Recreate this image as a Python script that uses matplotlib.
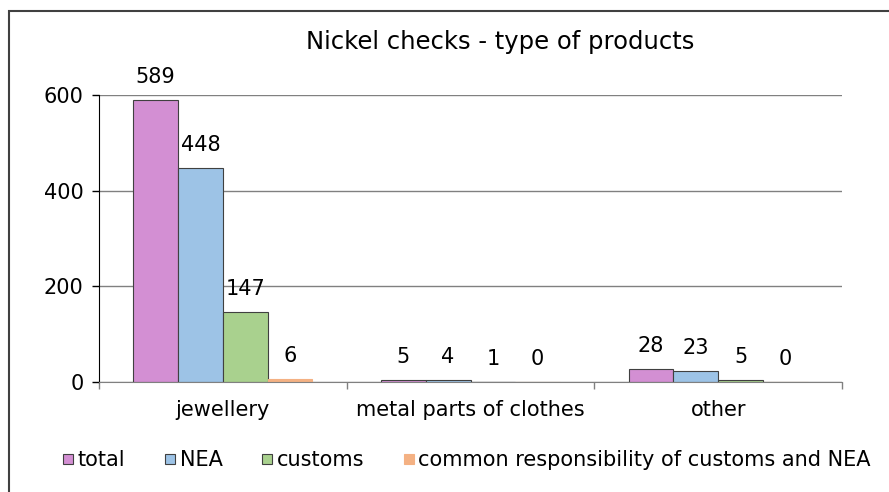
import matplotlib
matplotlib.use('Agg')
from matplotlib import pyplot as plt
from matplotlib.lines import Line2D
from matplotlib.patches import Rectangle
import numpy as np

categories = ['jewellery', 'metal parts of clothes', 'other']
series_names = ['total', 'NEA', 'customs', 'common responsibility of customs and NEA']
total = [589, 5, 28]
nea = [448, 4, 23]
customs = [147, 1, 5]
common = [6, 0, 0]
y_ticks = [0, 200, 400, 600]

colors = ['#D38FD3', '#9DC3E6', '#A9D18E', '#F4B183']
edges = ['#404040', '#404040', '#404040', '#F4B183']


def main():
  plt.rcParams['font.family'] = ['DejaVu Sans']
  fig = plt.figure(figsize=(8.89, 4.92), dpi=100)
  ax = fig.add_axes([99 / 889, 110 / 492, 743 / 889, 287 / 492])

  # outer chart frame
  fig.patches.append(Rectangle((9 / 889, -0.1), 1.2, 1.1 - 11 / 492,
                               transform=fig.transFigure, fill=False,
                               edgecolor='#404040', linewidth=1.5))

  data = [total, nea, customs, common]
  x = np.arange(len(categories)) + 0.5
  w = 0.181
  for i, vals in enumerate(data):
    pos = x + (i - 1.5) * w
    bars = ax.bar(pos, vals, width=w, color=colors[i], edgecolor=edges[i],
                  linewidth=0.8, zorder=3)
    for b, v in zip(bars, vals):
      ax.annotate(str(v), (b.get_x() + b.get_width() / 2, v),
                  xytext=(0, 16.5), textcoords='offset points',
                  ha='center', va='center', fontsize=15, color='black')

  ax.set_xlim(0, 3)
  ax.set_ylim(0, 600)
  ax.set_yticks(y_ticks)
  ax.tick_params(axis='y', length=5, width=1, pad=6, labelsize=15,
                 colors='black')
  ax.set_xticks([0, 1, 2, 3])
  ax.set_xticklabels([])
  ax.set_xticks(x, minor=True)
  ax.set_xticklabels(categories, minor=True, fontsize=15)
  ax.tick_params(axis='x', which='major', length=5, width=1, color='#808080')
  ax.tick_params(axis='x', which='minor', length=0, pad=13)
  ax.grid(True, axis='y', color='#808080', linewidth=1, zorder=0)
  ax.spines['top'].set_visible(False)
  ax.spines['right'].set_visible(False)
  ax.spines['left'].set_color('black')
  ax.spines['bottom'].set_color('#808080')
  ax.spines['bottom'].set_zorder(4)

  fig.text(500 / 889, 1 - 42 / 492, 'Nickel checks - type of products',
           ha='center', va='center', fontsize=17.5)

  handles = [Line2D([], [], linestyle='none', marker='s', markersize=7,
                    markerfacecolor=colors[i], markeredgecolor=edges[i],
                    markeredgewidth=0.8) for i in range(4)]
  fig.legend(handles, series_names, loc='center', ncol=4,
             bbox_to_anchor=(467 / 889, 1 - 460 / 492), frameon=False,
             fontsize=15, handlelength=0.5, handletextpad=0.2,
             columnspacing=1.9, borderaxespad=0)

  fig.savefig('out.png', dpi=100)


if __name__ == '__main__':
  main()
